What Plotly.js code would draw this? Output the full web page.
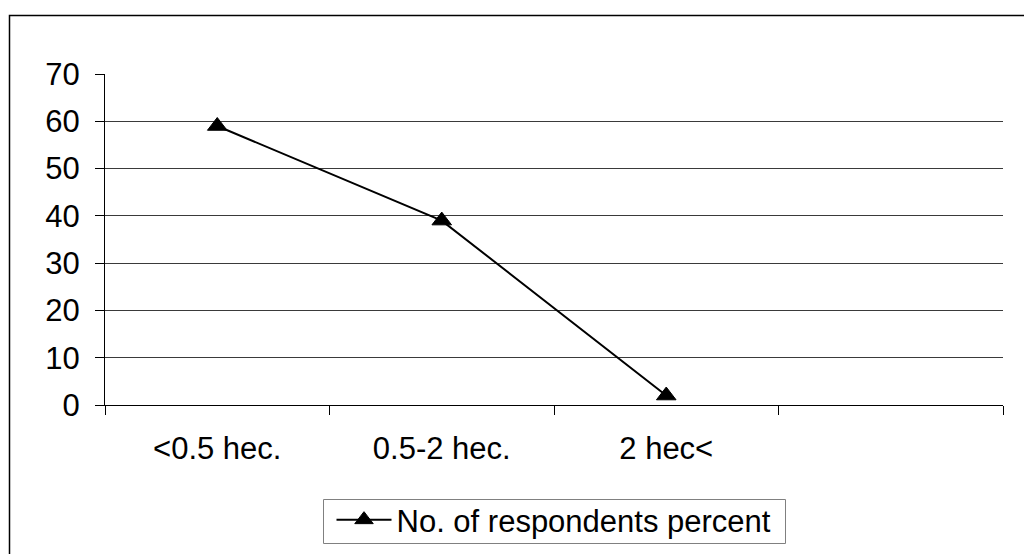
<!DOCTYPE html>
<html>
<head>
<meta charset="utf-8">
<script src="https://cdn.plot.ly/plotly-3.0.1.min.js"></script>
<style>html,body{margin:0;padding:0;background:#fff;}#chart{width:1024px;height:554px;}</style>
</head>
<body>
<div id="chart"></div>
<script>
var categories = ["<0.5 hec.", "0.5-2 hec.", "2 hec<"];
var allSlots = ["<0.5 hec.", "0.5-2 hec.", "2 hec<", " "];
var seriesName = "No. of respondents percent";
var values = [59, 39, 2];
var yTicks = [0, 10, 20, 30, 40, 50, 60, 70];

var font = "Liberation Sans, Arial, sans-serif";

var trace = {
  x: categories,
  y: values,
  type: "scatter",
  mode: "lines+markers",
  name: seriesName,
  line: {color: "#000", width: 2},
  marker: {symbol: "triangle-up", size: 17, color: "#000", line: {color: "#000", width: 1}},
  showlegend: true
};

function px2x(p) { return (p - 105) / 898; }
function px2y(p) { return (405 - p) / 331; }

var layout = {
  width: 1024, height: 554,
  margin: {l: 105, r: 21, t: 74, b: 149, pad: 0, autoexpand: false},
  paper_bgcolor: "#fff", plot_bgcolor: "#fff",
  font: {family: font, size: 31, color: "#000"},
  xaxis: {
    type: "category",
    categoryorder: "array",
    categoryarray: allSlots,
    range: [-0.5, 3.5],
    tickson: "boundaries",
    ticks: "outside", ticklen: 9, tickcolor: "#000", tickwidth: 1,
    showline: true, linecolor: "#000", linewidth: 1,
    showgrid: false, zeroline: false,
    ticklabelstandoff: 16,
    tickfont: {family: font, size: 31, color: "#000"},
    automargin: false,
    fixedrange: true
  },
  yaxis: {
    range: [0, 70],
    tickvals: yTicks,
    ticktext: yTicks.map(String),
    ticks: "outside", ticklen: 9, tickcolor: "#000", tickwidth: 1,
    showline: true, linecolor: "#000", linewidth: 1,
    showgrid: true, gridcolor: "#3a3a3a", gridwidth: 1,
    zeroline: false,
    ticklabelstandoff: 9,
    tickfont: {family: font, size: 31, color: "#000"},
    automargin: false,
    fixedrange: true
  },
  legend: {
    x: 0.5, xanchor: "center",
    y: px2y(493), yanchor: "top",
    orientation: "h",
    itemwidth: 55,
    borderwidth: 0,
    bgcolor: "rgba(0,0,0,0)",
    font: {family: font, size: 31, color: "#000"}
  },
  shapes: [{
    type: "rect", xref: "paper", yref: "paper",
    x0: px2x(9.5), x1: px2x(1040),
    y0: px2y(570), y1: px2y(15.5),
    line: {color: "#000", width: 1.5},
    fillcolor: "rgba(0,0,0,0)", layer: "below"
  }, {
    type: "rect", xref: "paper", yref: "paper",
    x0: px2x(323.5), x1: px2x(785.5),
    y0: px2y(543.5), y1: px2y(499.5),
    line: {color: "#808080", width: 1},
    fillcolor: "#fff", layer: "below"
  }]
};

Plotly.newPlot("chart", [trace], layout, {staticPlot: true, displayModeBar: false});
</script>
</body>
</html>
